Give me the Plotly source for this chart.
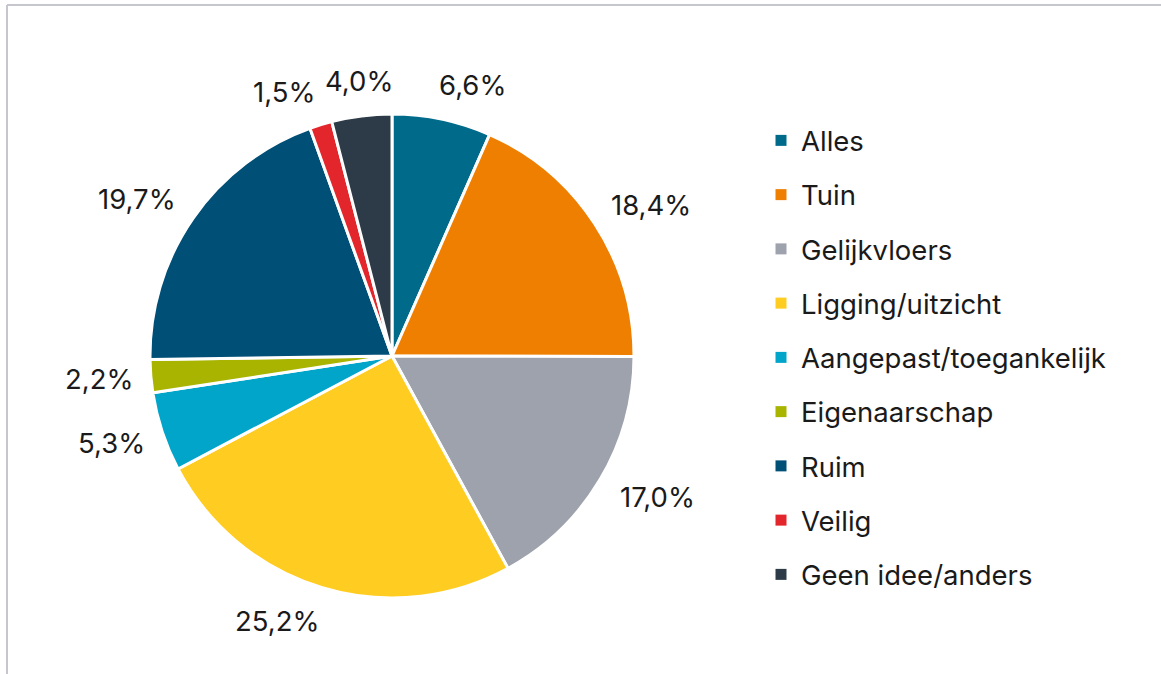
import math
import plotly.graph_objects as go

categories = ["Alles", "Tuin", "Gelijkvloers", "Ligging/uitzicht", "Aangepast/toegankelijk",
              "Eigenaarschap", "Ruim", "Veilig", "Geen idee/anders"]
values = [6.6, 18.4, 17.0, 25.2, 5.3, 2.2, 19.7, 1.5, 4.0]
colors = ["#006A8A", "#EE7F00", "#9EA2AD", "#FFCC21", "#00A5C9",
          "#A8B400", "#004F76", "#E3262B", "#2D3A47"]

FONT = "Inter, Liberation Sans, Arial, sans-serif"
FS = 27.5
W, H = 1161, 674
CX, CY, R = 392, 356, 242  # pie placement in pixels

dom_x = [(CX - R) / W, (CX + R) / W]
dom_y = [1 - (CY + R) / H, 1 - (CY - R) / H]

fig = go.Figure()
fig.add_trace(go.Pie(
    labels=categories, values=values, sort=False, direction="clockwise", rotation=0,
    marker=dict(colors=colors, line=dict(color="white", width=3)),
    textinfo="none", showlegend=False, hoverinfo="label+value",
    domain=dict(x=dom_x, y=dom_y),
))
for c, col in zip(categories, colors):
    fig.add_trace(go.Scatter(x=[None], y=[None], mode="markers", name=c,
                             legendgroup=c,
                             marker=dict(symbol="square", size=11, color=col)))

# data labels placed just outside each slice, derived from the values
total = sum(values)
annotations = []
cum = 0.0
for v in values:
    mid = (cum + v / 2) / total * 2 * math.pi
    cum += v
    s, c = math.sin(mid), math.cos(mid)
    txt = f"{v:.1f}%".replace(".", ",")
    w = 0.95 * FS * (0.62 * (len(txt) - 2) + 0.27 + 0.85)
    h = FS
    g = 21
    side = math.copysign(min(1.0, max(0.0, (abs(s) - 0.15) * 15)), s)
    px = CX + (R + g) * s + (w / 2) * side
    py = CY - (R + g) * c - (h / 2) * c
    annotations.append(dict(x=px / W, y=1 - py / H, xref="paper", yref="paper",
                            text=txt, showarrow=False, xanchor="center", yanchor="middle",
                            font=dict(family=FONT, size=FS, color="#1a1a1a")))

fig.update_layout(
    width=W, height=H, margin=dict(l=0, r=0, t=0, b=0),
    paper_bgcolor="white", plot_bgcolor="white",
    xaxis=dict(visible=False), yaxis=dict(visible=False),
    legend=dict(x=761 / W, y=1 - 116 / H, xanchor="left", yanchor="top",
                font=dict(family=FONT, size=FS, color="#1a1a1a"),
                tracegroupgap=15.5, itemclick=False, itemdoubleclick=False),
    annotations=annotations,
    shapes=[
        dict(type="line", xref="paper", yref="paper", x0=7 / W, x1=1, y0=1 - 5 / H, y1=1 - 5 / H,
             line=dict(color="#C6C6CE", width=2)),
        dict(type="line", xref="paper", yref="paper", x0=7 / W, x1=7 / W, y0=0, y1=1 - 5 / H,
             line=dict(color="#C6C6CE", width=2)),
    ],
)
fig.write_html("out.html", config={"displayModeBar": False},
               post_script="document.body.style.margin='0';")
